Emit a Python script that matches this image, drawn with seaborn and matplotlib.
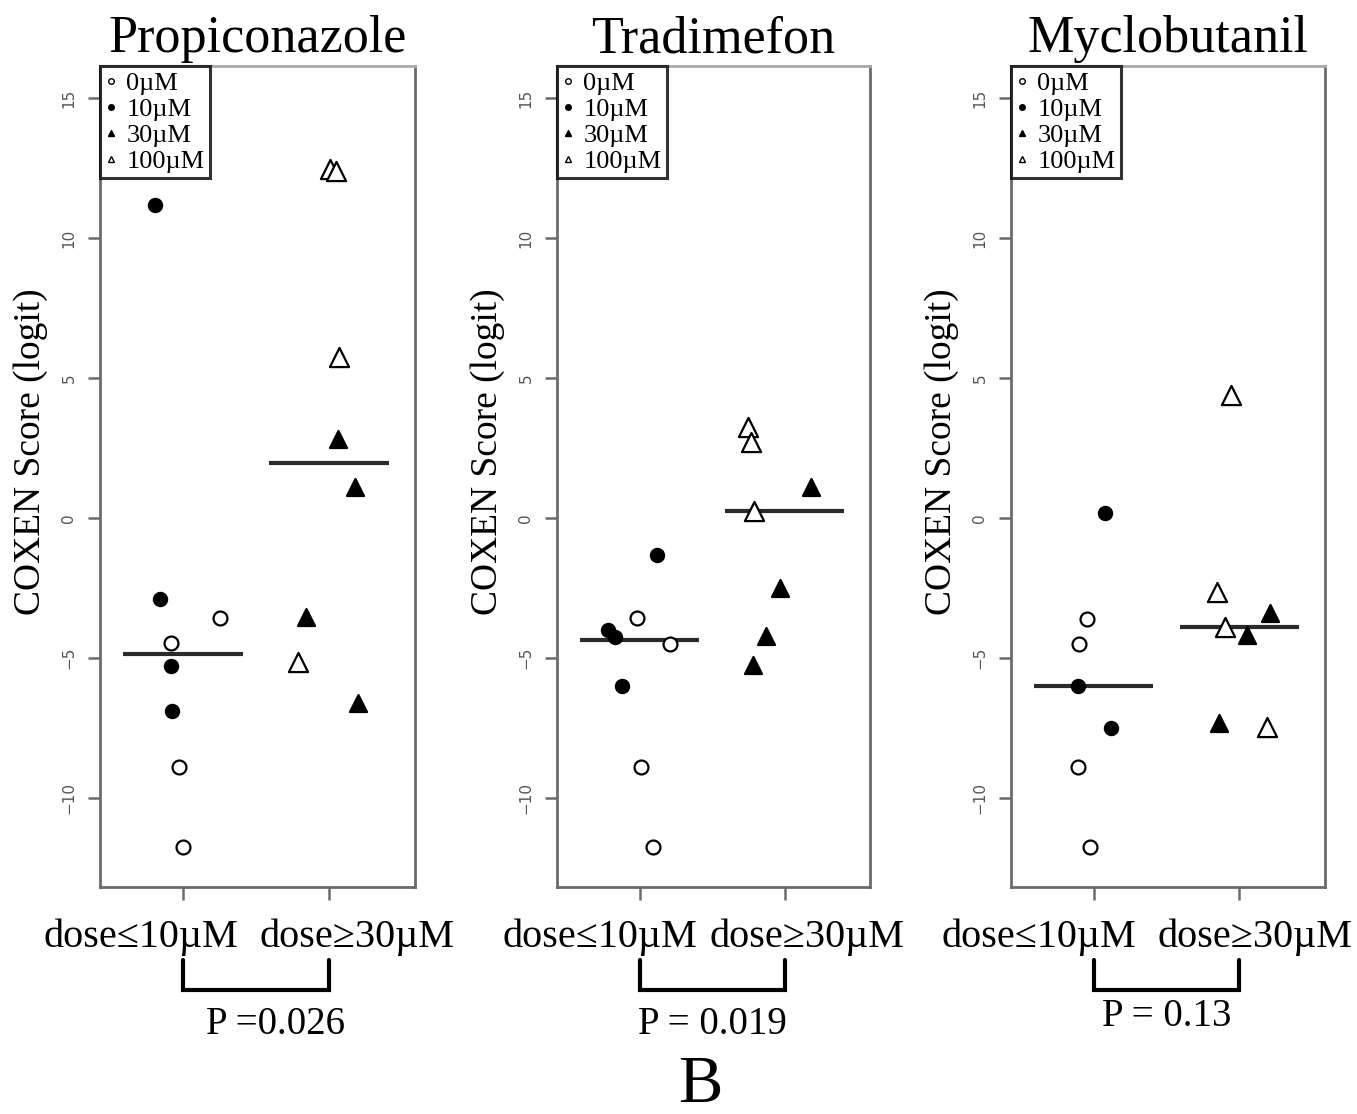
import numpy as np
import pandas as pd
import matplotlib
matplotlib.use("Agg")
import matplotlib.pyplot as plt
from matplotlib.lines import Line2D
import seaborn as sns

# ---- data -------------------------------------------------------------
compounds = ["Propiconazole", "Tradimefon", "Myclobutanil"]
group_labels = ["dose\u226410\u00b5M", "dose\u226530\u00b5M"]
p_labels = ["P =0.026", "P = 0.019", "P = 0.13"]
dose_names = {0: "0\u00b5M", 10: "10\u00b5M", 30: "30\u00b5M", 100: "100\u00b5M"}

prop_dose = [0, 0, 0, 0, 10, 10, 10, 10, 100, 100, 100, 100, 30, 30, 30, 30]
prop_score = [-3.57, -4.46, -8.89, -11.75, 11.18, -2.89, -5.29, -6.89,
              12.45, 12.40, 5.75, -5.14, 2.82, 1.11, -3.54, -6.61]
prop_jitter = [0.25, -0.08, -0.03, 0.0, -0.19, -0.16, -0.08, -0.075,
               0.01, 0.05, 0.07, -0.21, 0.06, 0.18, -0.16, 0.20]

trad_dose = [0, 0, 0, 0, 10, 10, 10, 10, 100, 100, 100, 30, 30, 30, 30]
trad_score = [-3.57, -4.50, -8.89, -11.75, -1.32, -4.00, -4.25, -6.00,
              3.25, 2.71, 0.25, 1.11, -2.50, -4.21, -5.25]
trad_jitter = [-0.02, 0.21, 0.01, 0.09, 0.12, -0.22, -0.17, -0.12,
               -0.25, -0.23, -0.21, 0.18, -0.03, -0.13, -0.22]

mycl_dose = [0, 0, 0, 0, 10, 10, 10, 100, 100, 100, 100, 30, 30, 30]
mycl_score = [-3.61, -4.50, -8.89, -11.75, 0.18, -6.00, -7.50,
              4.39, -2.64, -3.89, -7.46, -3.39, -4.18, -7.32]
mycl_jitter = [-0.05, -0.10, -0.11, -0.03, 0.08, -0.11, 0.12,
               -0.06, -0.15, -0.10, 0.19, 0.21, 0.05, -0.14]

panels = [
    (prop_dose, prop_score, prop_jitter),
    (trad_dose, trad_score, trad_jitter),
    (mycl_dose, mycl_score, mycl_jitter),
]

# marker style for each dose: (marker, face colour)
dose_style = {0: ("o", "white"), 10: ("o", "black"),
              30: ("^", "black"), 100: ("^", "white")}
dose_size = {0: 100, 10: 90, 30: 150, 100: 190}

# ---- figure -----------------------------------------------------------
sns.set_style("white")
plt.rcParams["font.family"] = ["Liberation Serif", "DejaVu Serif"]
plt.rcParams["text.color"] = "black"
plt.rcParams["axes.labelcolor"] = "black"

fig = plt.figure(figsize=(13.57, 11.14), dpi=100)
lefts = [100, 557, 1011]
widths = [315, 313, 314]
W, H = 1357, 1114
ax_bottom = 1 - 887 / H
ax_height = 821 / H

# horizontal nudges (pixels) that spread the two group labels apart
label_shift = [(-42, 28), (-40, 22), (-55, 16)]
p_xpos = [1.63, 1.5, 1.5]

spine_gray = "#6a6a6a"

for i, (dose, score, jit) in enumerate(panels):
    ax = fig.add_axes([lefts[i] / W, ax_bottom, widths[i] / W, ax_height])
    df = pd.DataFrame({"dose": dose, "score": score, "jitter": jit})
    df["group"] = np.where(df["dose"] <= 10, 1, 2)
    df["x"] = df["group"] + df["jitter"]

    for d in [0, 10, 30, 100]:
        sub = df[df["dose"] == d]
        if sub.empty:
            continue
        mk, fc = dose_style[d]
        sns.scatterplot(data=sub, x="x", y="score", marker=mk, color=fc,
                        edgecolor="black", linewidth=1.6, s=dose_size[d],
                        ax=ax, legend=False, zorder=3)

    # group medians
    for g in (1, 2):
        med = np.median(df.loc[df["group"] == g, "score"])
        ax.hlines(med, g - 0.41, g + 0.41, color="#2a2a2a", lw=3, zorder=2)

    ax.set_xlim(0.43, 2.59)
    ax.set_ylim(-13.18, 16.14)
    ax.set_xticks([1, 2])
    ax.set_xticklabels([])
    tr = ax.get_xaxis_transform()
    for g, lab, dx in zip((1, 2), group_labels, label_shift[i]):
        ax.annotate(lab, xy=(g, 0), xycoords=tr, xytext=(dx, -31),
                    textcoords="offset pixels", ha="center", va="top",
                    fontsize=29, annotation_clip=False)
    ax.set_yticks([-10, -5, 0, 5, 10, 15])
    ax.set_yticklabels([str(v).replace("-", "\u2212") for v in [-10, -5, 0, 5, 10, 15]],
                       rotation=90, va="center", fontsize=11, color="#555555",
                       family="DejaVu Sans")
    ax.tick_params(axis="y", length=9, width=1.8, color=spine_gray, pad=8, left=True)
    ax.tick_params(axis="x", length=9, width=1.8, color=spine_gray, bottom=True)
    ax.set_xlabel("")
    ax.set_ylabel("COXEN Score (logit)", fontsize=27)
    ax.yaxis.set_label_coords(-0.165, 0.53)
    ax.set_title(compounds[i], fontsize=37.5, pad=10, color="black")

    for side, sp in ax.spines.items():
        sp.set_visible(True)
        sp.set_color("#aaaaaa" if side == "top" else spine_gray)
        sp.set_linewidth(2)

    # dose legend in the upper-left corner
    handles = []
    for d in [0, 10, 30, 100]:
        mk, fc = dose_style[d]
        handles.append(Line2D([], [], linestyle="none", marker=mk, markersize=4,
                              markerfacecolor=fc, markeredgecolor="black",
                              markeredgewidth=1, label=dose_names[d]))
    leg = ax.legend(handles=handles, loc="upper left", borderaxespad=0,
                    fontsize=19, handlelength=0.4, handletextpad=0.4,
                    labelspacing=0.1, borderpad=0.2, fancybox=False,
                    frameon=True, edgecolor="black", labelcolor="black")
    leg.get_frame().set_linewidth(2.2)

    # comparison bracket with p-value
    y_top, y_bot = -0.089, -0.125
    ax.plot([1, 1, 2, 2], [y_top, y_bot, y_bot, y_top], color="black", lw=3,
            transform=tr, clip_on=False, solid_joinstyle="miter")
    ax.text(p_xpos[i], -0.168 if i < 2 else -0.158, p_labels[i], transform=tr,
            ha="center", va="center", fontsize=28)

fig.text(700 / W, 1 - 1085 / H, "B", ha="center", va="center", fontsize=48)

fig.savefig("out.png", dpi=100, facecolor="white")
